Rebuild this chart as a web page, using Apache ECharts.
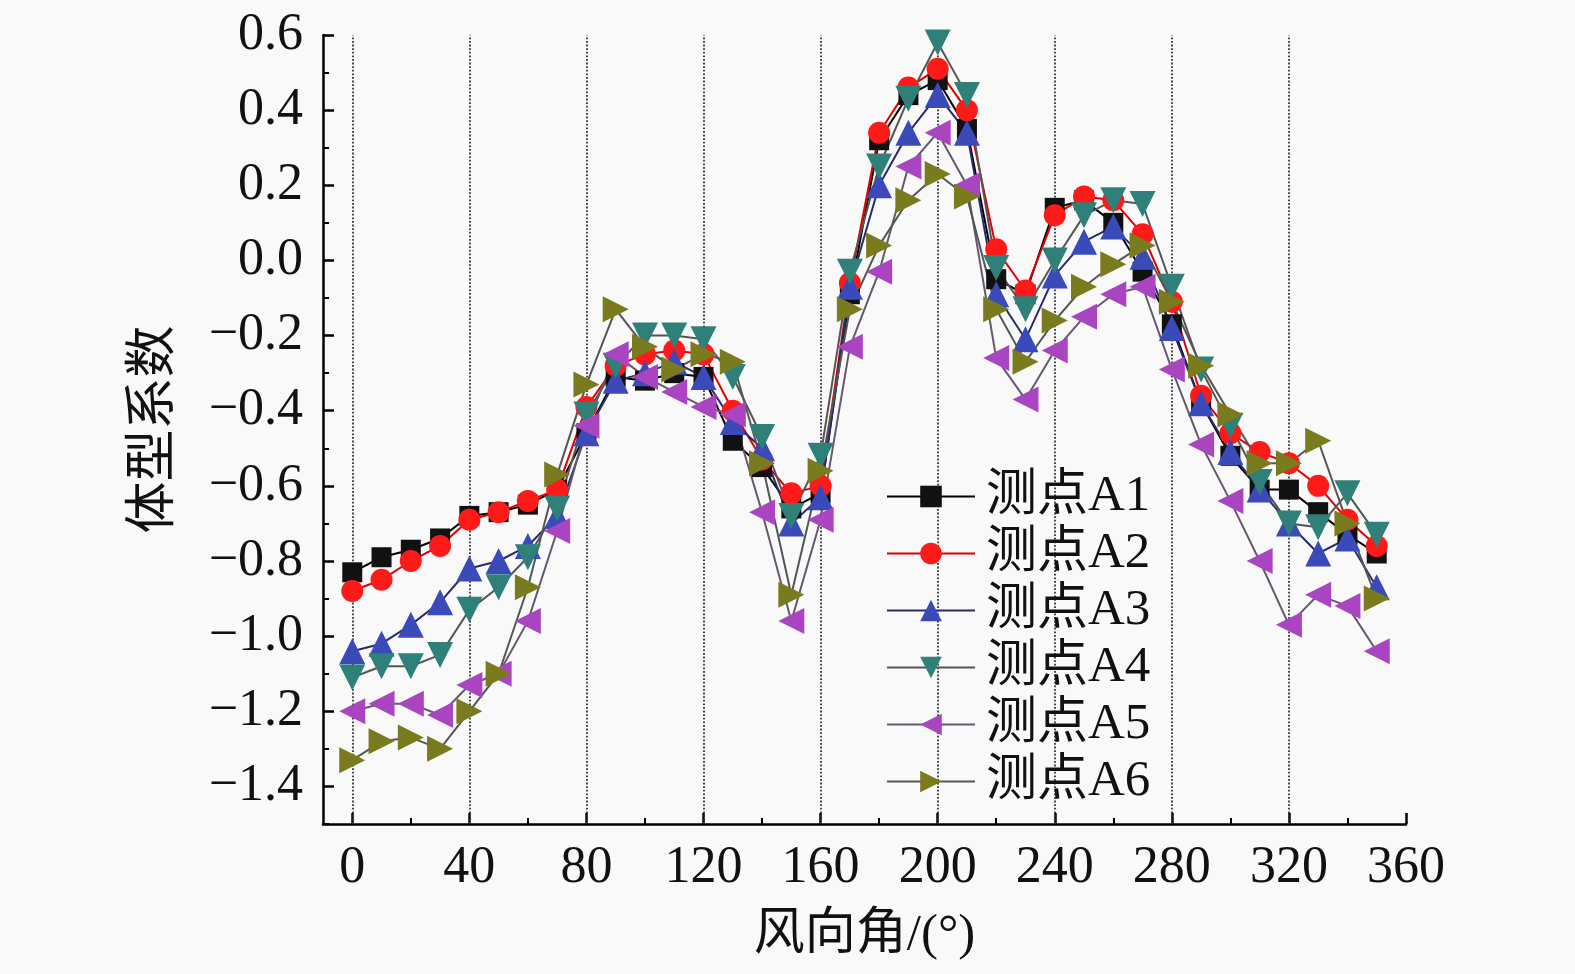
<!DOCTYPE html>
<html><head><meta charset="utf-8">
<script src="https://cdn.jsdelivr.net/npm/echarts@6/dist/echarts.min.js"></script>
<style>html,body{margin:0;padding:0;background:#f9f9f9}#c{width:1575px;height:974px}</style>
</head><body><div id="c"></div>
<script>
const angles = [0,10,20,30,40,50,60,70,80,90,100,110,120,130,140,150,160,170,180,190,200,210,220,230,240,250,260,270,280,290,300,310,320,330,340,350];
const seriesNames = ['测点A1','测点A2','测点A3','测点A4','测点A5','测点A6'];
const a1 = [-0.83,-0.79,-0.77,-0.74,-0.68,-0.67,-0.65,-0.61,-0.46,-0.31,-0.32,-0.30,-0.31,-0.48,-0.55,-0.66,-0.62,-0.09,0.32,0.44,0.48,0.35,-0.05,-0.09,0.14,0.16,0.10,-0.03,-0.17,-0.38,-0.52,-0.61,-0.61,-0.67,-0.73,-0.78];
const a2 = [-0.88,-0.85,-0.80,-0.76,-0.69,-0.67,-0.64,-0.61,-0.39,-0.28,-0.25,-0.24,-0.25,-0.40,-0.53,-0.62,-0.60,-0.06,0.34,0.46,0.51,0.40,0.03,-0.08,0.12,0.17,0.16,0.07,-0.11,-0.36,-0.46,-0.51,-0.54,-0.60,-0.69,-0.76];
const a3 = [-1.04,-1.02,-0.97,-0.91,-0.82,-0.80,-0.76,-0.68,-0.46,-0.32,-0.30,-0.27,-0.31,-0.43,-0.50,-0.70,-0.63,-0.07,0.20,0.34,0.44,0.34,-0.09,-0.21,-0.04,0.05,0.09,0.01,-0.18,-0.38,-0.51,-0.61,-0.70,-0.78,-0.74,-0.87];
const a4 = [-1.11,-1.08,-1.08,-1.05,-0.93,-0.87,-0.79,-0.66,-0.41,-0.28,-0.20,-0.20,-0.21,-0.31,-0.47,-0.68,-0.52,-0.03,0.25,0.43,0.58,0.44,-0.02,-0.13,0.00,0.12,0.16,0.15,-0.07,-0.29,-0.44,-0.59,-0.70,-0.71,-0.62,-0.73];
const a5 = [-1.20,-1.18,-1.18,-1.21,-1.13,-1.10,-0.96,-0.72,-0.44,-0.25,-0.31,-0.35,-0.39,-0.41,-0.67,-0.96,-0.69,-0.23,-0.03,0.25,0.34,0.20,-0.26,-0.37,-0.24,-0.15,-0.09,-0.07,-0.29,-0.49,-0.64,-0.80,-0.97,-0.89,-0.92,-1.04];
const a6 = [-1.33,-1.28,-1.27,-1.30,-1.20,-1.10,-0.87,-0.57,-0.33,-0.13,-0.23,-0.29,-0.25,-0.27,-0.54,-0.89,-0.56,-0.13,0.04,0.16,0.23,0.17,-0.13,-0.27,-0.16,-0.07,-0.01,0.04,-0.11,-0.28,-0.41,-0.54,-0.54,-0.48,-0.70,-0.90];
const xTickLabels = [0,40,80,120,160,200,240,280,320,360];
const xMinorTicks = [20,60,100,140,180,220,260,300,340];
const xGridLines = [0,40,80,120,160,200,240,280,320];
const yTickLabels = [-1.4,-1.2,-1.0,-0.8,-0.6,-0.4,-0.2,0.0,0.2,0.4,0.6];
const yMinorTicks = [-1.5,-1.3,-1.1,-0.9,-0.7,-0.5,-0.3,-0.1,0.1,0.3,0.5];

const allData = [a1,a2,a3,a4,a5,a6];
const styles = [
  {symbol:'rect', rot:0, size:20, fill:'#111111', line:'#000000'},
  {symbol:'circle', rot:0, size:22, fill:'#ff1a1a', line:'#e00000'},
  {symbol:'triangle', rot:0, size:26, fill:'#3a4ab8', line:'#2a2a6a'},
  {symbol:'triangle', rot:180, size:26, fill:'#2e8078', line:'#555555'},
  {symbol:'triangle', rot:90, size:26, fill:'#a945c0', line:'#66596e'},
  {symbol:'triangle', rot:-90, size:26, fill:'#7a7a1e', line:'#555555'}
];
const serif = '"Liberation Serif", "Times New Roman", serif';
const labelFont = '"Liberation Serif", "Noto Sans CJK SC", serif';

const series = seriesNames.map((n,i)=>{
  const s = styles[i];
  const o = {
    name:n, type:'line', z:2,
    data: angles.map((a,j)=>[a, allData[i][j]]),
    symbol:s.symbol, symbolRotate:s.rot, symbolSize:s.size,
    itemStyle:{color:s.fill, borderWidth:0},
    lineStyle:{color:s.line, width:2},
    animation:false
  };
  if (i===0) {
    o.markLine = {
      z:1, silent:true, symbol:['none','none'], label:{show:false},
      lineStyle:{type:'dotted', color:'#333', width:1.8},
      data: xGridLines.map(v=>({xAxis:v})), animation:false
    };
  }
  return o;
});

const chart = echarts.init(document.getElementById('c'));
const fmtY = v => (v<-1e-9?'\u2212':'') + Math.abs(v).toFixed(1);
chart.setOption({
  backgroundColor:'#f9f9f9',
  animation:false,
  grid:{left:323, right:169, top:35, bottom:150, containLabel:false},
  legend:{
    data:seriesNames, orient:'vertical', left:881, top:466,
    itemWidth:88, itemHeight:27, itemGap:6,
    textStyle:{fontSize:51, fontFamily:labelFont, color:'#111', lineHeight:50, padding:[0,0,0,6]}
  },
  xAxis:[
    {type:'value', min:-10, max:360, position:'bottom',
     axisLine:{show:true, onZero:false, lineStyle:{color:'#000', width:2.5}},
     axisTick:{show:true, inside:true, length:11, customValues:xTickLabels, lineStyle:{color:'#000', width:2.5}},
     axisLabel:{customValues:xTickLabels, fontSize:52, fontFamily:serif, color:'#111', margin:18},
     splitLine:{show:false},
     name:'风向角/(°)', nameLocation:'middle', nameGap:86,
     nameTextStyle:{fontSize:51, fontFamily:labelFont, color:'#111', verticalAlign:'top'}},
    {type:'value', min:-10, max:360, position:'bottom', offset:0,
     axisLine:{show:false, onZero:false},
     axisTick:{show:true, inside:true, length:6, customValues:xMinorTicks, lineStyle:{color:'#000', width:2}},
     axisLabel:{show:false}, splitLine:{show:false}}
  ],
  yAxis:[
    {type:'value', min:-1.5, max:0.6, position:'left',
     axisLine:{show:true, onZero:false, lineStyle:{color:'#000', width:2.5}},
     axisTick:{show:true, inside:true, length:11, customValues:yTickLabels, lineStyle:{color:'#000', width:2.5}},
     axisLabel:{customValues:yTickLabels, formatter:fmtY, fontSize:52, fontFamily:serif, color:'#111', margin:20},
     splitLine:{show:false},
     name:'体型系数', nameLocation:'middle', nameGap:142, nameRotate:90,
     nameTextStyle:{fontSize:52, fontFamily:labelFont, color:'#111'}},
    {type:'value', min:-1.5, max:0.6, position:'left', offset:0,
     axisLine:{show:false, onZero:false},
     axisTick:{show:true, inside:true, length:6, customValues:yMinorTicks, lineStyle:{color:'#000', width:2}},
     axisLabel:{show:false}, splitLine:{show:false}}
  ],
  series: series
});
</script></body></html>
